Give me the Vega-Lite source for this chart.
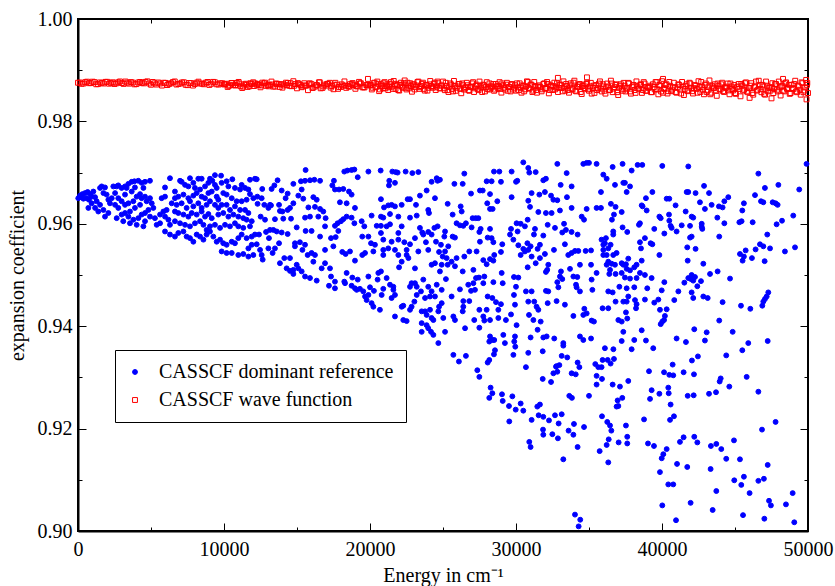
{
"$schema":"https://vega.github.io/schema/vega-lite/v6.json",
"width":730,"height":512,"autosize":"none",
"padding":{"left":78,"top":19,"right":27,"bottom":55},
"config":{"view":{"stroke":"black","strokeWidth":2},"font":"Liberation Serif",
"axis":{"labelFont":"Liberation Serif","labelFontSize":20,"titleFont":"Liberation Serif","titleFontSize":20,"titleFontWeight":"normal","labelColor":"black","titleColor":"black","tickColor":"black","tickWidth":1,"domainColor":"black","domainWidth":2,"grid":false,"labelFlush":false,"labelOverlap":false},
"legend":{"title":null,"orient":"none","legendX":37,"legendY":331,"strokeColor":"black","fillColor":"white","padding":12,"symbolOffset":-2,"labelOffset":14,"rowPadding":8,"labelFont":"Liberation Serif","labelFontSize":20,"labelColor":"black","labelLimit":400,"symbolStrokeWidth":1,"symbolSize":24}},
"resolve":{"axis":{"x":"independent","y":"independent"}},
"layer":[
{"data":{"values":[
{"s":"b","e":0,"c":0.98755},{"s":"b","e":250,"c":0.98734},{"s":"b","e":500,"c":0.98767},{"s":"b","e":750,"c":0.98746},{"s":"b","e":1000,"c":0.98776},{"s":"b","e":1250,"c":0.98725},{"s":"b","e":1500,"c":0.98761},{"s":"b","e":1750,"c":0.9874},{"s":"b","e":2000,"c":0.98773},{"s":"b","e":2250,"c":0.98752},{"s":"b","e":2500,"c":0.98731},{"s":"b","e":2750,"c":0.98764},{"s":"b","e":3000,"c":0.98749},{"s":"b","e":3250,"c":0.98779},{"s":"b","e":3500,"c":0.98737},{"s":"b","e":3750,"c":0.98758},{"s":"b","e":4000,"c":0.98728},{"s":"b","e":4250,"c":0.9877},{"s":"b","e":4500,"c":0.98743},{"s":"b","e":4750,"c":0.98782},
{"s":"b","e":125,"c":0.9876},{"s":"b","e":375,"c":0.9874},{"s":"b","e":625,"c":0.98776},{"s":"b","e":875,"c":0.98748},{"s":"b","e":1125,"c":0.98768},{"s":"b","e":1375,"c":0.98728},{"s":"b","e":1625,"c":0.98752},{"s":"b","e":1875,"c":0.98772},{"s":"b","e":2125,"c":0.98736},{"s":"b","e":2375,"c":0.98764},{"s":"b","e":2625,"c":0.98744},{"s":"b","e":2875,"c":0.9878},{"s":"b","e":3125,"c":0.98732},{"s":"b","e":3375,"c":0.98756},{"s":"b","e":3625,"c":0.98768},{"s":"b","e":3875,"c":0.98724},{"s":"b","e":4125,"c":0.9876},{"s":"b","e":4375,"c":0.98748},{"s":"b","e":4625,"c":0.98772},{"s":"b","e":4875,"c":0.9874},
{"s":"b","e":5000,"c":0.98716},{"s":"b","e":5250,"c":0.98744},{"s":"b","e":5500,"c":0.9876},{"s":"b","e":5750,"c":0.987},{"s":"b","e":6000,"c":0.98752},{"s":"b","e":6250,"c":0.98732},{"s":"b","e":6500,"c":0.98768},{"s":"b","e":6750,"c":0.9872},{"s":"b","e":7000,"c":0.9874},{"s":"b","e":7250,"c":0.98764},{"s":"b","e":7500,"c":0.98708},{"s":"b","e":7750,"c":0.98748},{"s":"b","e":8000,"c":0.98728},{"s":"b","e":8250,"c":0.98776},{"s":"b","e":8500,"c":0.98736},{"s":"b","e":8750,"c":0.98756},{"s":"b","e":9000,"c":0.98712},{"s":"b","e":9250,"c":0.98772},{"s":"b","e":9500,"c":0.98724},{"s":"b","e":9750,"c":0.98744},
{"s":"b","e":5125,"c":0.9877},{"s":"b","e":5375,"c":0.9872},{"s":"b","e":5625,"c":0.9874},{"s":"b","e":5875,"c":0.98755},{"s":"b","e":6125,"c":0.9871},{"s":"b","e":6375,"c":0.98745},{"s":"b","e":6625,"c":0.9878},{"s":"b","e":6875,"c":0.9873},{"s":"b","e":7125,"c":0.9876},{"s":"b","e":7375,"c":0.98715},{"s":"b","e":7625,"c":0.9875},{"s":"b","e":7875,"c":0.987},{"s":"b","e":8125,"c":0.98755},{"s":"b","e":8375,"c":0.9874},{"s":"b","e":8625,"c":0.98725},{"s":"b","e":8875,"c":0.9877},{"s":"b","e":9125,"c":0.98735},{"s":"b","e":9375,"c":0.98765},{"s":"b","e":9625,"c":0.9872},{"s":"b","e":9875,"c":0.98745},
{"s":"b","e":10000,"c":0.98722},{"s":"b","e":10250,"c":0.98673},{"s":"b","e":10500,"c":0.9875},{"s":"b","e":10750,"c":0.98701},{"s":"b","e":11000,"c":0.98771},{"s":"b","e":11250,"c":0.98652},{"s":"b","e":11500,"c":0.98736},{"s":"b","e":11750,"c":0.98687},{"s":"b","e":12000,"c":0.98764},{"s":"b","e":12250,"c":0.98715},{"s":"b","e":12500,"c":0.98666},{"s":"b","e":12750,"c":0.98743},{"s":"b","e":13000,"c":0.98708},{"s":"b","e":13250,"c":0.98778},{"s":"b","e":13500,"c":0.9868},{"s":"b","e":13750,"c":0.98729},{"s":"b","e":14000,"c":0.98659},{"s":"b","e":14250,"c":0.98757},{"s":"b","e":14500,"c":0.98694},{"s":"b","e":14750,"c":0.98785},
{"s":"b","e":10125,"c":0.98736},{"s":"b","e":10375,"c":0.98701},{"s":"b","e":10625,"c":0.98715},{"s":"b","e":10875,"c":0.9875},{"s":"b","e":11125,"c":0.98687},{"s":"b","e":11375,"c":0.98722},{"s":"b","e":11625,"c":0.98673},{"s":"b","e":11875,"c":0.98729},{"s":"b","e":12125,"c":0.98743},{"s":"b","e":12375,"c":0.98708},{"s":"b","e":12625,"c":0.98757},{"s":"b","e":12875,"c":0.98694},{"s":"b","e":13125,"c":0.98715},{"s":"b","e":13375,"c":0.9868},{"s":"b","e":13625,"c":0.98736},{"s":"b","e":13875,"c":0.98722},{"s":"b","e":14125,"c":0.98701},{"s":"b","e":14375,"c":0.9875},{"s":"b","e":14625,"c":0.98687},{"s":"b","e":14875,"c":0.98729},
{"s":"b","e":10060,"c":0.98727},{"s":"b","e":10310,"c":0.98697},{"s":"b","e":10560,"c":0.98751},{"s":"b","e":10810,"c":0.98709},{"s":"b","e":11060,"c":0.98739},{"s":"b","e":11310,"c":0.98679},{"s":"b","e":11560,"c":0.98715},{"s":"b","e":11810,"c":0.98745},{"s":"b","e":12060,"c":0.98691},{"s":"b","e":12310,"c":0.98733},{"s":"b","e":12560,"c":0.98703},{"s":"b","e":12810,"c":0.98757},{"s":"b","e":13060,"c":0.98685},{"s":"b","e":13310,"c":0.98721},{"s":"b","e":13560,"c":0.98739},{"s":"b","e":13810,"c":0.98673},{"s":"b","e":14060,"c":0.98727},{"s":"b","e":14310,"c":0.98709},{"s":"b","e":14560,"c":0.98745},{"s":"b","e":14810,"c":0.98697},
{"s":"b","e":15000,"c":0.98646},{"s":"b","e":15250,"c":0.98709},{"s":"b","e":15500,"c":0.98745},{"s":"b","e":15750,"c":0.9861},{"s":"b","e":16000,"c":0.98727},{"s":"b","e":16250,"c":0.98682},{"s":"b","e":16500,"c":0.98763},{"s":"b","e":16750,"c":0.98655},{"s":"b","e":17000,"c":0.987},{"s":"b","e":17250,"c":0.98754},{"s":"b","e":17500,"c":0.98628},{"s":"b","e":17750,"c":0.98718},{"s":"b","e":18000,"c":0.98673},{"s":"b","e":18250,"c":0.98781},{"s":"b","e":18500,"c":0.98691},{"s":"b","e":18750,"c":0.98736},{"s":"b","e":19000,"c":0.98637},{"s":"b","e":19250,"c":0.98772},{"s":"b","e":19500,"c":0.98664},{"s":"b","e":19750,"c":0.98709},
{"s":"b","e":15125,"c":0.98727},{"s":"b","e":15375,"c":0.98682},{"s":"b","e":15625,"c":0.987},{"s":"b","e":15875,"c":0.98745},{"s":"b","e":16125,"c":0.98664},{"s":"b","e":16375,"c":0.98709},{"s":"b","e":16625,"c":0.98646},{"s":"b","e":16875,"c":0.98718},{"s":"b","e":17125,"c":0.98736},{"s":"b","e":17375,"c":0.98691},{"s":"b","e":17625,"c":0.98754},{"s":"b","e":17875,"c":0.98673},{"s":"b","e":18125,"c":0.987},{"s":"b","e":18375,"c":0.98655},{"s":"b","e":18625,"c":0.98727},{"s":"b","e":18875,"c":0.98709},{"s":"b","e":19125,"c":0.98682},{"s":"b","e":19375,"c":0.98745},{"s":"b","e":19625,"c":0.98664},{"s":"b","e":19875,"c":0.98718},
{"s":"b","e":15060,"c":0.98748},{"s":"b","e":15310,"c":0.98668},{"s":"b","e":15560,"c":0.987},{"s":"b","e":15810,"c":0.98724},{"s":"b","e":16060,"c":0.98652},{"s":"b","e":16310,"c":0.98708},{"s":"b","e":16560,"c":0.98764},{"s":"b","e":16810,"c":0.98684},{"s":"b","e":17060,"c":0.98732},{"s":"b","e":17310,"c":0.9866},{"s":"b","e":17560,"c":0.98716},{"s":"b","e":17810,"c":0.98636},{"s":"b","e":18060,"c":0.98724},{"s":"b","e":18310,"c":0.987},{"s":"b","e":18560,"c":0.98676},{"s":"b","e":18810,"c":0.98748},{"s":"b","e":19060,"c":0.98692},{"s":"b","e":19310,"c":0.9874},{"s":"b","e":19560,"c":0.98668},{"s":"b","e":19810,"c":0.98708},
{"s":"b","e":20000,"c":0.98701},{"s":"b","e":20125,"c":0.98624},{"s":"b","e":20250,"c":0.98745},{"s":"b","e":20375,"c":0.98668},{"s":"b","e":20500,"c":0.98778},{"s":"b","e":20625,"c":0.98591},{"s":"b","e":20750,"c":0.98723},{"s":"b","e":20875,"c":0.98646},{"s":"b","e":21000,"c":0.98767},{"s":"b","e":21125,"c":0.9869},{"s":"b","e":21250,"c":0.98613},{"s":"b","e":21375,"c":0.98734},{"s":"b","e":21500,"c":0.98679},{"s":"b","e":21625,"c":0.98789},{"s":"b","e":21750,"c":0.98635},{"s":"b","e":21875,"c":0.98712},{"s":"b","e":22000,"c":0.98602},{"s":"b","e":22125,"c":0.98756},{"s":"b","e":22250,"c":0.98657},{"s":"b","e":22375,"c":0.988},{"s":"b","e":22500,"c":0.98624},{"s":"b","e":22625,"c":0.98701},{"s":"b","e":22750,"c":0.98745},{"s":"b","e":22875,"c":0.9858},{"s":"b","e":23000,"c":0.98723},{"s":"b","e":23125,"c":0.98668},{"s":"b","e":23250,"c":0.98767},{"s":"b","e":23375,"c":0.98635},{"s":"b","e":23500,"c":0.9869},{"s":"b","e":23625,"c":0.98756},{"s":"b","e":23750,"c":0.98602},{"s":"b","e":23875,"c":0.98712},{"s":"b","e":24000,"c":0.98657},{"s":"b","e":24125,"c":0.98789},{"s":"b","e":24250,"c":0.98679},{"s":"b","e":24375,"c":0.98734},{"s":"b","e":24500,"c":0.98613},{"s":"b","e":24625,"c":0.98778},{"s":"b","e":24750,"c":0.98646},{"s":"b","e":24875,"c":0.98701},
{"s":"b","e":20060,"c":0.98712},{"s":"b","e":20185,"c":0.98657},{"s":"b","e":20310,"c":0.98756},{"s":"b","e":20435,"c":0.98679},{"s":"b","e":20560,"c":0.98734},{"s":"b","e":20685,"c":0.98624},{"s":"b","e":20810,"c":0.9869},{"s":"b","e":20935,"c":0.98745},{"s":"b","e":21060,"c":0.98646},{"s":"b","e":21185,"c":0.98723},{"s":"b","e":21310,"c":0.98668},{"s":"b","e":21435,"c":0.98767},{"s":"b","e":21560,"c":0.98635},{"s":"b","e":21685,"c":0.98701},{"s":"b","e":21810,"c":0.98734},{"s":"b","e":21935,"c":0.98613},{"s":"b","e":22060,"c":0.98712},{"s":"b","e":22185,"c":0.98679},{"s":"b","e":22310,"c":0.98745},{"s":"b","e":22435,"c":0.98657},{"s":"b","e":22560,"c":0.98756},{"s":"b","e":22685,"c":0.98646},{"s":"b","e":22810,"c":0.9869},{"s":"b","e":22935,"c":0.98723},{"s":"b","e":23060,"c":0.98624},{"s":"b","e":23185,"c":0.98701},{"s":"b","e":23310,"c":0.98778},{"s":"b","e":23435,"c":0.98668},{"s":"b","e":23560,"c":0.98734},{"s":"b","e":23685,"c":0.98635},{"s":"b","e":23810,"c":0.98712},{"s":"b","e":23935,"c":0.98602},{"s":"b","e":24060,"c":0.98723},{"s":"b","e":24185,"c":0.9869},{"s":"b","e":24310,"c":0.98657},{"s":"b","e":24435,"c":0.98756},{"s":"b","e":24560,"c":0.98679},{"s":"b","e":24685,"c":0.98745},{"s":"b","e":24810,"c":0.98646},{"s":"b","e":24935,"c":0.98701},
{"s":"b","e":25000,"c":0.98778},{"s":"b","e":25125,"c":0.9861},{"s":"b","e":25250,"c":0.98694},{"s":"b","e":25375,"c":0.98574},{"s":"b","e":25500,"c":0.98742},{"s":"b","e":25625,"c":0.98634},{"s":"b","e":25750,"c":0.9879},{"s":"b","e":25875,"c":0.98598},{"s":"b","e":26000,"c":0.98682},{"s":"b","e":26125,"c":0.9873},{"s":"b","e":26250,"c":0.9855},{"s":"b","e":26375,"c":0.98706},{"s":"b","e":26500,"c":0.98646},{"s":"b","e":26625,"c":0.98754},{"s":"b","e":26750,"c":0.9861},{"s":"b","e":26875,"c":0.9867},{"s":"b","e":27000,"c":0.98742},{"s":"b","e":27125,"c":0.98574},{"s":"b","e":27250,"c":0.98694},{"s":"b","e":27375,"c":0.98634},{"s":"b","e":27500,"c":0.98778},{"s":"b","e":27625,"c":0.98658},{"s":"b","e":27750,"c":0.98718},{"s":"b","e":27875,"c":0.98586},{"s":"b","e":28000,"c":0.98766},{"s":"b","e":28125,"c":0.98622},{"s":"b","e":28250,"c":0.98682},{"s":"b","e":28375,"c":0.98682},{"s":"b","e":28500,"c":0.98598},{"s":"b","e":28625,"c":0.9873},{"s":"b","e":28750,"c":0.98646},{"s":"b","e":28875,"c":0.98766},{"s":"b","e":29000,"c":0.98562},{"s":"b","e":29125,"c":0.98706},{"s":"b","e":29250,"c":0.98622},{"s":"b","e":29375,"c":0.98754},{"s":"b","e":29500,"c":0.9867},{"s":"b","e":29625,"c":0.98586},{"s":"b","e":29750,"c":0.98718},{"s":"b","e":29875,"c":0.98658},
{"s":"b","e":25060,"c":0.98646},{"s":"b","e":25185,"c":0.98754},{"s":"b","e":25310,"c":0.9861},{"s":"b","e":25435,"c":0.98682},{"s":"b","e":25560,"c":0.98718},{"s":"b","e":25685,"c":0.98586},{"s":"b","e":25810,"c":0.98694},{"s":"b","e":25935,"c":0.98658},{"s":"b","e":26060,"c":0.9873},{"s":"b","e":26185,"c":0.98634},{"s":"b","e":26310,"c":0.98742},{"s":"b","e":26435,"c":0.98622},{"s":"b","e":26560,"c":0.9867},{"s":"b","e":26685,"c":0.98706},{"s":"b","e":26810,"c":0.98598},{"s":"b","e":26935,"c":0.98682},{"s":"b","e":27060,"c":0.98766},{"s":"b","e":27185,"c":0.98646},{"s":"b","e":27310,"c":0.98718},{"s":"b","e":27435,"c":0.9861},{"s":"b","e":27560,"c":0.98694},{"s":"b","e":27685,"c":0.98574},{"s":"b","e":27810,"c":0.98706},{"s":"b","e":27935,"c":0.9867},{"s":"b","e":28060,"c":0.98634},{"s":"b","e":28185,"c":0.98742},{"s":"b","e":28310,"c":0.98658},{"s":"b","e":28435,"c":0.9873},{"s":"b","e":28560,"c":0.98622},{"s":"b","e":28685,"c":0.98682},{"s":"b","e":28810,"c":0.98694},{"s":"b","e":28935,"c":0.98634},{"s":"b","e":29060,"c":0.98742},{"s":"b","e":29185,"c":0.98658},{"s":"b","e":29310,"c":0.98718},{"s":"b","e":29435,"c":0.98598},{"s":"b","e":29560,"c":0.9867},{"s":"b","e":29685,"c":0.9873},{"s":"b","e":29810,"c":0.98622},{"s":"b","e":29935,"c":0.98706},
{"s":"b","e":30000,"c":0.986},{"s":"b","e":30125,"c":0.98665},{"s":"b","e":30250,"c":0.98743},{"s":"b","e":30375,"c":0.98561},{"s":"b","e":30500,"c":0.98691},{"s":"b","e":30625,"c":0.98626},{"s":"b","e":30750,"c":0.98782},{"s":"b","e":30875,"c":0.98652},{"s":"b","e":31000,"c":0.98717},{"s":"b","e":31125,"c":0.98574},{"s":"b","e":31250,"c":0.98769},{"s":"b","e":31375,"c":0.98613},{"s":"b","e":31500,"c":0.98678},{"s":"b","e":31625,"c":0.98678},{"s":"b","e":31750,"c":0.98587},{"s":"b","e":31875,"c":0.9873},{"s":"b","e":32000,"c":0.98639},{"s":"b","e":32125,"c":0.98769},{"s":"b","e":32250,"c":0.98548},{"s":"b","e":32375,"c":0.98704},{"s":"b","e":32500,"c":0.98613},{"s":"b","e":32625,"c":0.98756},{"s":"b","e":32750,"c":0.98665},{"s":"b","e":32875,"c":0.98574},{"s":"b","e":33000,"c":0.98717},{"s":"b","e":33125,"c":0.98652},{"s":"b","e":33250,"c":0.98782},{"s":"b","e":33375,"c":0.986},{"s":"b","e":33500,"c":0.98691},{"s":"b","e":33625,"c":0.98561},{"s":"b","e":33750,"c":0.98743},{"s":"b","e":33875,"c":0.98626},{"s":"b","e":34000,"c":0.98795},{"s":"b","e":34125,"c":0.98587},{"s":"b","e":34250,"c":0.98678},{"s":"b","e":34375,"c":0.9873},{"s":"b","e":34500,"c":0.98535},{"s":"b","e":34625,"c":0.98704},{"s":"b","e":34750,"c":0.98639},{"s":"b","e":34875,"c":0.98756},
{"s":"b","e":30060,"c":0.98743},{"s":"b","e":30185,"c":0.98613},{"s":"b","e":30310,"c":0.98665},{"s":"b","e":30435,"c":0.98704},{"s":"b","e":30560,"c":0.98587},{"s":"b","e":30685,"c":0.98678},{"s":"b","e":30810,"c":0.98769},{"s":"b","e":30935,"c":0.98639},{"s":"b","e":31060,"c":0.98717},{"s":"b","e":31185,"c":0.986},{"s":"b","e":31310,"c":0.98691},{"s":"b","e":31435,"c":0.98561},{"s":"b","e":31560,"c":0.98704},{"s":"b","e":31685,"c":0.98665},{"s":"b","e":31810,"c":0.98626},{"s":"b","e":31935,"c":0.98743},{"s":"b","e":32060,"c":0.98652},{"s":"b","e":32185,"c":0.9873},{"s":"b","e":32310,"c":0.98613},{"s":"b","e":32435,"c":0.98678},{"s":"b","e":32560,"c":0.98691},{"s":"b","e":32685,"c":0.98626},{"s":"b","e":32810,"c":0.98743},{"s":"b","e":32935,"c":0.98652},{"s":"b","e":33060,"c":0.98717},{"s":"b","e":33185,"c":0.98587},{"s":"b","e":33310,"c":0.98665},{"s":"b","e":33435,"c":0.9873},{"s":"b","e":33560,"c":0.98613},{"s":"b","e":33685,"c":0.98704},{"s":"b","e":33810,"c":0.98639},{"s":"b","e":33935,"c":0.98756},{"s":"b","e":34060,"c":0.986},{"s":"b","e":34185,"c":0.98678},{"s":"b","e":34310,"c":0.98717},{"s":"b","e":34435,"c":0.98574},{"s":"b","e":34560,"c":0.98691},{"s":"b","e":34685,"c":0.98652},{"s":"b","e":34810,"c":0.9873},{"s":"b","e":34935,"c":0.98626},
{"s":"b","e":35000,"c":0.98599},{"s":"b","e":35125,"c":0.98753},{"s":"b","e":35250,"c":0.98655},{"s":"b","e":35375,"c":0.98557},{"s":"b","e":35500,"c":0.98711},{"s":"b","e":35625,"c":0.98641},{"s":"b","e":35750,"c":0.98781},{"s":"b","e":35875,"c":0.98585},{"s":"b","e":36000,"c":0.98683},{"s":"b","e":36125,"c":0.98543},{"s":"b","e":36250,"c":0.98739},{"s":"b","e":36375,"c":0.98613},{"s":"b","e":36500,"c":0.98795},{"s":"b","e":36625,"c":0.98571},{"s":"b","e":36750,"c":0.98669},{"s":"b","e":36875,"c":0.98725},{"s":"b","e":37000,"c":0.98515},{"s":"b","e":37125,"c":0.98697},{"s":"b","e":37250,"c":0.98627},{"s":"b","e":37375,"c":0.98753},{"s":"b","e":37500,"c":0.98585},{"s":"b","e":37625,"c":0.98655},{"s":"b","e":37750,"c":0.98739},{"s":"b","e":37875,"c":0.98543},{"s":"b","e":38000,"c":0.98683},{"s":"b","e":38125,"c":0.98613},{"s":"b","e":38250,"c":0.98781},{"s":"b","e":38375,"c":0.98641},{"s":"b","e":38500,"c":0.98711},{"s":"b","e":38625,"c":0.98557},{"s":"b","e":38750,"c":0.98767},{"s":"b","e":38875,"c":0.98599},{"s":"b","e":39000,"c":0.98669},{"s":"b","e":39125,"c":0.98669},{"s":"b","e":39250,"c":0.98571},{"s":"b","e":39375,"c":0.98725},{"s":"b","e":39500,"c":0.98627},{"s":"b","e":39625,"c":0.98767},{"s":"b","e":39750,"c":0.98529},{"s":"b","e":39875,"c":0.98697},
{"s":"b","e":35060,"c":0.98683},{"s":"b","e":35185,"c":0.98543},{"s":"b","e":35310,"c":0.98697},{"s":"b","e":35435,"c":0.98655},{"s":"b","e":35560,"c":0.98613},{"s":"b","e":35685,"c":0.98739},{"s":"b","e":35810,"c":0.98641},{"s":"b","e":35935,"c":0.98725},{"s":"b","e":36060,"c":0.98599},{"s":"b","e":36185,"c":0.98669},{"s":"b","e":36310,"c":0.98683},{"s":"b","e":36435,"c":0.98613},{"s":"b","e":36560,"c":0.98739},{"s":"b","e":36685,"c":0.98641},{"s":"b","e":36810,"c":0.98711},{"s":"b","e":36935,"c":0.98571},{"s":"b","e":37060,"c":0.98655},{"s":"b","e":37185,"c":0.98725},{"s":"b","e":37310,"c":0.98599},{"s":"b","e":37435,"c":0.98697},{"s":"b","e":37560,"c":0.98627},{"s":"b","e":37685,"c":0.98753},{"s":"b","e":37810,"c":0.98585},{"s":"b","e":37935,"c":0.98669},{"s":"b","e":38060,"c":0.98711},{"s":"b","e":38185,"c":0.98557},{"s":"b","e":38310,"c":0.98683},{"s":"b","e":38435,"c":0.98641},{"s":"b","e":38560,"c":0.98725},{"s":"b","e":38685,"c":0.98613},{"s":"b","e":38810,"c":0.98739},{"s":"b","e":38935,"c":0.98599},{"s":"b","e":39060,"c":0.98655},{"s":"b","e":39185,"c":0.98697},{"s":"b","e":39310,"c":0.98571},{"s":"b","e":39435,"c":0.98669},{"s":"b","e":39560,"c":0.98767},{"s":"b","e":39685,"c":0.98627},{"s":"b","e":39810,"c":0.98711},{"s":"b","e":39935,"c":0.98585},
{"s":"b","e":40000,"c":0.98785},{"s":"b","e":40125,"c":0.98635},{"s":"b","e":40250,"c":0.9871},{"s":"b","e":40375,"c":0.98545},{"s":"b","e":40500,"c":0.9877},{"s":"b","e":40625,"c":0.9859},{"s":"b","e":40750,"c":0.98665},{"s":"b","e":40875,"c":0.98665},{"s":"b","e":41000,"c":0.9856},{"s":"b","e":41125,"c":0.98725},{"s":"b","e":41250,"c":0.9862},{"s":"b","e":41375,"c":0.9877},{"s":"b","e":41500,"c":0.98515},{"s":"b","e":41625,"c":0.98695},{"s":"b","e":41750,"c":0.9859},{"s":"b","e":41875,"c":0.98755},{"s":"b","e":42000,"c":0.9865},{"s":"b","e":42125,"c":0.98545},{"s":"b","e":42250,"c":0.9871},{"s":"b","e":42375,"c":0.98635},{"s":"b","e":42500,"c":0.98785},{"s":"b","e":42625,"c":0.98575},{"s":"b","e":42750,"c":0.9868},{"s":"b","e":42875,"c":0.9853},{"s":"b","e":43000,"c":0.9874},{"s":"b","e":43125,"c":0.98605},{"s":"b","e":43250,"c":0.988},{"s":"b","e":43375,"c":0.9856},{"s":"b","e":43500,"c":0.98665},{"s":"b","e":43625,"c":0.98725},{"s":"b","e":43750,"c":0.985},{"s":"b","e":43875,"c":0.98695},{"s":"b","e":44000,"c":0.9862},{"s":"b","e":44125,"c":0.98755},{"s":"b","e":44250,"c":0.98575},{"s":"b","e":44375,"c":0.9865},{"s":"b","e":44500,"c":0.9874},{"s":"b","e":44625,"c":0.9853},{"s":"b","e":44750,"c":0.9868},{"s":"b","e":44875,"c":0.98605},
{"s":"b","e":40060,"c":0.9856},{"s":"b","e":40185,"c":0.9865},{"s":"b","e":40310,"c":0.98725},{"s":"b","e":40435,"c":0.9859},{"s":"b","e":40560,"c":0.98695},{"s":"b","e":40685,"c":0.9862},{"s":"b","e":40810,"c":0.98755},{"s":"b","e":40935,"c":0.98575},{"s":"b","e":41060,"c":0.98665},{"s":"b","e":41185,"c":0.9871},{"s":"b","e":41310,"c":0.98545},{"s":"b","e":41435,"c":0.9868},{"s":"b","e":41560,"c":0.98635},{"s":"b","e":41685,"c":0.98725},{"s":"b","e":41810,"c":0.98605},{"s":"b","e":41935,"c":0.9874},{"s":"b","e":42060,"c":0.9859},{"s":"b","e":42185,"c":0.9865},{"s":"b","e":42310,"c":0.98695},{"s":"b","e":42435,"c":0.9856},{"s":"b","e":42560,"c":0.98665},{"s":"b","e":42685,"c":0.9877},{"s":"b","e":42810,"c":0.9862},{"s":"b","e":42935,"c":0.9871},{"s":"b","e":43060,"c":0.98575},{"s":"b","e":43185,"c":0.9868},{"s":"b","e":43310,"c":0.9853},{"s":"b","e":43435,"c":0.98695},{"s":"b","e":43560,"c":0.9865},{"s":"b","e":43685,"c":0.98605},{"s":"b","e":43810,"c":0.9874},{"s":"b","e":43935,"c":0.98635},{"s":"b","e":44060,"c":0.98725},{"s":"b","e":44185,"c":0.9859},{"s":"b","e":44310,"c":0.98665},{"s":"b","e":44435,"c":0.9868},{"s":"b","e":44560,"c":0.98605},{"s":"b","e":44685,"c":0.9874},{"s":"b","e":44810,"c":0.98635},{"s":"b","e":44935,"c":0.9871},
{"s":"b","e":45000,"c":0.98554},{"s":"b","e":45125,"c":0.98666},{"s":"b","e":45250,"c":0.9873},{"s":"b","e":45375,"c":0.9849},{"s":"b","e":45500,"c":0.98698},{"s":"b","e":45625,"c":0.98618},{"s":"b","e":45750,"c":0.98762},{"s":"b","e":45875,"c":0.9857},{"s":"b","e":46000,"c":0.9865},{"s":"b","e":46125,"c":0.98746},{"s":"b","e":46250,"c":0.98522},{"s":"b","e":46375,"c":0.98682},{"s":"b","e":46500,"c":0.98602},{"s":"b","e":46625,"c":0.98794},{"s":"b","e":46750,"c":0.98634},{"s":"b","e":46875,"c":0.98714},{"s":"b","e":47000,"c":0.98538},{"s":"b","e":47125,"c":0.98778},{"s":"b","e":47250,"c":0.98586},{"s":"b","e":47375,"c":0.98666},{"s":"b","e":47500,"c":0.98666},{"s":"b","e":47625,"c":0.98554},{"s":"b","e":47750,"c":0.9873},{"s":"b","e":47875,"c":0.98618},{"s":"b","e":48000,"c":0.98778},{"s":"b","e":48125,"c":0.98506},{"s":"b","e":48250,"c":0.98698},{"s":"b","e":48375,"c":0.98586},{"s":"b","e":48500,"c":0.98762},{"s":"b","e":48625,"c":0.9865},{"s":"b","e":48750,"c":0.98538},{"s":"b","e":48875,"c":0.98714},{"s":"b","e":49000,"c":0.98634},{"s":"b","e":49125,"c":0.98794},{"s":"b","e":49250,"c":0.9857},{"s":"b","e":49375,"c":0.98682},{"s":"b","e":49500,"c":0.98522},{"s":"b","e":49625,"c":0.98746},{"s":"b","e":49750,"c":0.98602},{"s":"b","e":49875,"c":0.9881},{"s":"b","e":50000,"c":0.98554},
{"s":"b","e":45060,"c":0.98538},{"s":"b","e":45185,"c":0.98682},{"s":"b","e":45310,"c":0.98634},{"s":"b","e":45435,"c":0.9873},{"s":"b","e":45560,"c":0.98602},{"s":"b","e":45685,"c":0.98746},{"s":"b","e":45810,"c":0.98586},{"s":"b","e":45935,"c":0.9865},{"s":"b","e":46060,"c":0.98698},{"s":"b","e":46185,"c":0.98554},{"s":"b","e":46310,"c":0.98666},{"s":"b","e":46435,"c":0.98778},{"s":"b","e":46560,"c":0.98618},{"s":"b","e":46685,"c":0.98714},{"s":"b","e":46810,"c":0.9857},{"s":"b","e":46935,"c":0.98682},{"s":"b","e":47060,"c":0.98522},{"s":"b","e":47185,"c":0.98698},{"s":"b","e":47310,"c":0.9865},{"s":"b","e":47435,"c":0.98602},{"s":"b","e":47560,"c":0.98746},{"s":"b","e":47685,"c":0.98634},{"s":"b","e":47810,"c":0.9873},{"s":"b","e":47935,"c":0.98586},{"s":"b","e":48060,"c":0.98666},{"s":"b","e":48185,"c":0.98682},{"s":"b","e":48310,"c":0.98602},{"s":"b","e":48435,"c":0.98746},{"s":"b","e":48560,"c":0.98634},{"s":"b","e":48685,"c":0.98714},{"s":"b","e":48810,"c":0.98554},{"s":"b","e":48935,"c":0.9865},{"s":"b","e":49060,"c":0.9873},{"s":"b","e":49185,"c":0.98586},{"s":"b","e":49310,"c":0.98698},{"s":"b","e":49435,"c":0.98618},{"s":"b","e":49560,"c":0.98762},{"s":"b","e":49685,"c":0.9857},{"s":"b","e":49810,"c":0.98666},{"s":"b","e":49935,"c":0.98714},
{"s":"b","e":19860,"c":0.9883},{"s":"b","e":40070,"c":0.9883},{"s":"b","e":48290,"c":0.9883},{"s":"b","e":49900,"c":0.9843},{"s":"b","e":49950,"c":0.9875},{"s":"b","e":46000,"c":0.9846},{"s":"b","e":47500,"c":0.9845},{"s":"b","e":34860,"c":0.9886},{"s":"b","e":32870,"c":0.9885},
{"s":"a","e":20,"c":0.965},{"s":"a","e":140,"c":0.9655},{"s":"a","e":300,"c":0.9658},{"s":"a","e":480,"c":0.966},{"s":"a","e":660,"c":0.9662},{"s":"a","e":820,"c":0.9658},{"s":"a","e":940,"c":0.9653},{"s":"a","e":370,"c":0.9649},{"s":"a","e":590,"c":0.965},{"s":"a","e":750,"c":0.9647},{"s":"a","e":210,"c":0.9652},{"s":"a","e":1050,"c":0.9663},{"s":"a","e":1170,"c":0.9652},{"s":"a","e":1280,"c":0.9644},{"s":"a","e":1510,"c":0.967},{"s":"a","e":1620,"c":0.9673},{"s":"a","e":1850,"c":0.9671},{"s":"a","e":1740,"c":0.966},{"s":"a","e":1960,"c":0.9657},{"s":"a","e":2080,"c":0.9647},{"s":"a","e":1510,"c":0.9637},{"s":"a","e":1170,"c":0.9631},{"s":"a","e":940,"c":0.964},{"s":"a","e":710,"c":0.9631},{"s":"a","e":1390,"c":0.9624},{"s":"a","e":1740,"c":0.9627},{"s":"a","e":2080,"c":0.9621},{"s":"a","e":1850,"c":0.9614},{"s":"a","e":2190,"c":0.964},{"s":"a","e":2420,"c":0.9673},{"s":"a","e":2650,"c":0.9673},{"s":"a","e":2760,"c":0.9675},{"s":"a","e":2990,"c":0.967},{"s":"a","e":3220,"c":0.9673},{"s":"a","e":3330,"c":0.967},{"s":"a","e":3450,"c":0.9678},{"s":"a","e":3680,"c":0.9682},{"s":"a","e":3860,"c":0.9683},{"s":"a","e":4130,"c":0.9684},{"s":"a","e":4360,"c":0.968},{"s":"a","e":4590,"c":0.9682},{"s":"a","e":4930,"c":0.9684},{"s":"a","e":4480,"c":0.967},{"s":"a","e":3900,"c":0.9671},{"s":"a","e":3680,"c":0.9663},{"s":"a","e":3220,"c":0.9657},{"s":"a","e":2540,"c":0.966},{"s":"a","e":2760,"c":0.965},{"s":"a","e":2310,"c":0.965},{"s":"a","e":2990,"c":0.9644},{"s":"a","e":2540,"c":0.9637},{"s":"a","e":2760,"c":0.9631},{"s":"a","e":3220,"c":0.9637},{"s":"a","e":3450,"c":0.964},{"s":"a","e":3790,"c":0.9644},{"s":"a","e":4020,"c":0.9653},{"s":"a","e":4250,"c":0.9658},{"s":"a","e":4360,"c":0.965},{"s":"a","e":4590,"c":0.9653},{"s":"a","e":4700,"c":0.9644},{"s":"a","e":4930,"c":0.965},{"s":"a","e":5050,"c":0.964},{"s":"a","e":4250,"c":0.9637},{"s":"a","e":3900,"c":0.9631},{"s":"a","e":3560,"c":0.9624},{"s":"a","e":3220,"c":0.9621},{"s":"a","e":3450,"c":0.9614},{"s":"a","e":2990,"c":0.9618},{"s":"a","e":2650,"c":0.9611},{"s":"a","e":3100,"c":0.9605},{"s":"a","e":3560,"c":0.9601},{"s":"a","e":3790,"c":0.9608},{"s":"a","e":4130,"c":0.9611},{"s":"a","e":4360,"c":0.9618},{"s":"a","e":4590,"c":0.9621},{"s":"a","e":4820,"c":0.9627},{"s":"a","e":5160,"c":0.9631},{"s":"a","e":4930,"c":0.9614},{"s":"a","e":4590,"c":0.9605},{"s":"a","e":4480,"c":0.9595},{"s":"a","e":4020,"c":0.9598},{"s":"a","e":5270,"c":0.9611},{"s":"a","e":5620,"c":0.9618},{"s":"a","e":5850,"c":0.9624},{"s":"a","e":6070,"c":0.9627},{"s":"a","e":5960,"c":0.9614},{"s":"a","e":6190,"c":0.9608},{"s":"a","e":5620,"c":0.9601},{"s":"a","e":5390,"c":0.9598},{"s":"a","e":5730,"c":0.965},{"s":"a","e":5960,"c":0.9653},{"s":"a","e":6300,"c":0.9689},{"s":"a","e":6990,"c":0.9684},{"s":"a","e":7100,"c":0.9682},{"s":"a","e":7670,"c":0.9689},{"s":"a","e":8240,"c":0.9688},{"s":"a","e":8470,"c":0.9688},{"s":"a","e":9040,"c":0.9688},{"s":"a","e":9200,"c":0.9684},{"s":"a","e":9380,"c":0.9695},{"s":"a","e":9800,"c":0.9694},{"s":"a","e":10570,"c":0.9687},{"s":"a","e":11210,"c":0.9676},{"s":"a","e":11780,"c":0.9686},{"s":"a","e":12120,"c":0.9688},{"s":"a","e":5960,"c":0.9671},{"s":"a","e":6640,"c":0.9663},{"s":"a","e":7330,"c":0.9676},{"s":"a","e":7560,"c":0.9673},{"s":"a","e":7900,"c":0.968},{"s":"a","e":8010,"c":0.967},{"s":"a","e":8360,"c":0.9667},{"s":"a","e":8700,"c":0.9673},{"s":"a","e":8930,"c":0.968},{"s":"a","e":9380,"c":0.9676},{"s":"a","e":9500,"c":0.967},{"s":"a","e":9840,"c":0.968},{"s":"a","e":10180,"c":0.9683},{"s":"a","e":10300,"c":0.9673},{"s":"a","e":10750,"c":0.967},{"s":"a","e":11100,"c":0.9667},{"s":"a","e":11440,"c":0.967},{"s":"a","e":11670,"c":0.9667},{"s":"a","e":11780,"c":0.9658},{"s":"a","e":6640,"c":0.965},{"s":"a","e":6870,"c":0.9653},{"s":"a","e":7220,"c":0.9657},{"s":"a","e":7560,"c":0.965},{"s":"a","e":7900,"c":0.9655},{"s":"a","e":8130,"c":0.966},{"s":"a","e":8470,"c":0.9653},{"s":"a","e":8700,"c":0.965},{"s":"a","e":8930,"c":0.966},{"s":"a","e":9160,"c":0.9663},{"s":"a","e":9500,"c":0.9653},{"s":"a","e":9610,"c":0.9647},{"s":"a","e":9950,"c":0.966},{"s":"a","e":10180,"c":0.9657},{"s":"a","e":10530,"c":0.965},{"s":"a","e":10870,"c":0.9644},{"s":"a","e":11210,"c":0.9644},{"s":"a","e":11550,"c":0.9647},{"s":"a","e":12010,"c":0.965},{"s":"a","e":6420,"c":0.964},{"s":"a","e":6760,"c":0.9637},{"s":"a","e":7100,"c":0.964},{"s":"a","e":7440,"c":0.9631},{"s":"a","e":7670,"c":0.9644},{"s":"a","e":7900,"c":0.9634},{"s":"a","e":8240,"c":0.964},{"s":"a","e":8470,"c":0.9631},{"s":"a","e":8810,"c":0.9637},{"s":"a","e":9040,"c":0.9644},{"s":"a","e":9380,"c":0.9637},{"s":"a","e":9610,"c":0.9631},{"s":"a","e":9840,"c":0.9637},{"s":"a","e":10180,"c":0.9637},{"s":"a","e":10410,"c":0.9627},{"s":"a","e":10750,"c":0.9634},{"s":"a","e":11100,"c":0.9627},{"s":"a","e":11440,"c":0.9627},{"s":"a","e":11670,"c":0.9621},{"s":"a","e":6640,"c":0.9624},{"s":"a","e":6870,"c":0.9621},{"s":"a","e":7220,"c":0.9618},{"s":"a","e":7560,"c":0.9614},{"s":"a","e":7790,"c":0.9621},{"s":"a","e":8130,"c":0.9618},{"s":"a","e":8470,"c":0.9624},{"s":"a","e":8700,"c":0.9614},{"s":"a","e":8930,"c":0.9619},{"s":"a","e":9160,"c":0.9611},{"s":"a","e":9610,"c":0.9618},{"s":"a","e":9950,"c":0.9621},{"s":"a","e":10300,"c":0.9614},{"s":"a","e":10640,"c":0.9618},{"s":"a","e":10980,"c":0.9614},{"s":"a","e":11320,"c":0.9611},{"s":"a","e":11550,"c":0.9608},{"s":"a","e":11900,"c":0.9605},{"s":"a","e":6300,"c":0.9598},{"s":"a","e":6640,"c":0.9605},{"s":"a","e":6990,"c":0.9601},{"s":"a","e":7330,"c":0.9598},{"s":"a","e":7670,"c":0.9595},{"s":"a","e":8010,"c":0.9601},{"s":"a","e":8360,"c":0.9605},{"s":"a","e":8590,"c":0.9598},{"s":"a","e":8810,"c":0.9588},{"s":"a","e":9040,"c":0.9595},{"s":"a","e":9380,"c":0.9598},{"s":"a","e":9730,"c":0.9592},{"s":"a","e":10070,"c":0.9598},{"s":"a","e":10410,"c":0.9595},{"s":"a","e":10750,"c":0.9601},{"s":"a","e":10980,"c":0.9595},{"s":"a","e":11320,"c":0.9592},{"s":"a","e":11780,"c":0.9595},{"s":"a","e":5960,"c":0.9585},{"s":"a","e":6300,"c":0.9579},{"s":"a","e":6640,"c":0.9575},{"s":"a","e":6870,"c":0.9582},{"s":"a","e":7220,"c":0.9585},{"s":"a","e":7440,"c":0.9575},{"s":"a","e":7670,"c":0.9572},{"s":"a","e":7900,"c":0.9565},{"s":"a","e":8130,"c":0.9579},{"s":"a","e":8360,"c":0.9575},{"s":"a","e":8590,"c":0.9569},{"s":"a","e":8810,"c":0.9579},{"s":"a","e":9040,"c":0.9585},{"s":"a","e":9270,"c":0.9575},{"s":"a","e":9500,"c":0.9565},{"s":"a","e":9730,"c":0.9569},{"s":"a","e":9950,"c":0.9562},{"s":"a","e":10180,"c":0.9559},{"s":"a","e":10530,"c":0.9565},{"s":"a","e":10750,"c":0.9562},{"s":"a","e":10980,"c":0.9572},{"s":"a","e":11210,"c":0.9579},{"s":"a","e":11550,"c":0.9572},{"s":"a","e":11900,"c":0.9575},{"s":"a","e":12120,"c":0.9579},{"s":"a","e":9840,"c":0.9546},{"s":"a","e":10180,"c":0.9543},{"s":"a","e":10530,"c":0.9543},{"s":"a","e":10980,"c":0.9539},{"s":"a","e":11320,"c":0.9541},{"s":"a","e":11670,"c":0.9536},{"s":"a","e":12010,"c":0.9539},{"s":"a","e":11900,"c":0.9559},{"s":"a","e":11670,"c":0.9552},
{"s":"a","e":15590,"c":0.9705},{"s":"a","e":18240,"c":0.9702},{"s":"a","e":18450,"c":0.9704},{"s":"a","e":18740,"c":0.9705},{"s":"a","e":18930,"c":0.9706},{"s":"a","e":19890,"c":0.9702},{"s":"a","e":20730,"c":0.9704},{"s":"a","e":21530,"c":0.9702},{"s":"a","e":21760,"c":0.9701},{"s":"a","e":21890,"c":0.97},{"s":"a","e":22440,"c":0.9702},{"s":"a","e":22900,"c":0.9699},{"s":"a","e":23310,"c":0.9701},{"s":"a","e":24570,"c":0.9689},{"s":"a","e":24630,"c":0.9684},{"s":"a","e":24220,"c":0.9682},{"s":"a","e":21320,"c":0.9684},{"s":"a","e":21300,"c":0.9675},{"s":"a","e":21710,"c":0.968},{"s":"a","e":19160,"c":0.9691},{"s":"a","e":17530,"c":0.9684},{"s":"a","e":17420,"c":0.9675},{"s":"a","e":16580,"c":0.9684},{"s":"a","e":16190,"c":0.9686},{"s":"a","e":15890,"c":0.9685},{"s":"a","e":15550,"c":0.9684},{"s":"a","e":15270,"c":0.9683},{"s":"a","e":14750,"c":0.9678},{"s":"a","e":13670,"c":0.9685},{"s":"a","e":12240,"c":0.9687},{"s":"a","e":13450,"c":0.9675},{"s":"a","e":13260,"c":0.9668},{"s":"a","e":12620,"c":0.9668},{"s":"a","e":12580,"c":0.965},{"s":"a","e":12280,"c":0.9653},{"s":"a","e":12300,"c":0.9639},{"s":"a","e":13950,"c":0.9665},{"s":"a","e":14360,"c":0.9659},{"s":"a","e":14220,"c":0.965},{"s":"a","e":15320,"c":0.9667},{"s":"a","e":15090,"c":0.9655},{"s":"a","e":15430,"c":0.9649},{"s":"a","e":16120,"c":0.9652},{"s":"a","e":16350,"c":0.9647},{"s":"a","e":17600,"c":0.9667},{"s":"a","e":17880,"c":0.9667},{"s":"a","e":18170,"c":0.9668},{"s":"a","e":18560,"c":0.9663},{"s":"a","e":18740,"c":0.9657},{"s":"a","e":17940,"c":0.9642},{"s":"a","e":18400,"c":0.964},{"s":"a","e":18970,"c":0.9631},{"s":"a","e":20750,"c":0.9648},{"s":"a","e":20960,"c":0.9632},{"s":"a","e":21250,"c":0.9636},{"s":"a","e":21480,"c":0.9637},{"s":"a","e":21710,"c":0.9634},{"s":"a","e":22170,"c":0.9637},{"s":"a","e":22580,"c":0.9648},{"s":"a","e":22740,"c":0.9648},{"s":"a","e":23150,"c":0.9637},{"s":"a","e":23420,"c":0.9655},{"s":"a","e":23880,"c":0.9665},{"s":"a","e":24450,"c":0.965},{"s":"a","e":23990,"c":0.9627},{"s":"a","e":24040,"c":0.9621},{"s":"a","e":14750,"c":0.964},{"s":"a","e":14520,"c":0.9631},{"s":"a","e":14360,"c":0.9627},{"s":"a","e":14000,"c":0.9624},{"s":"a","e":13770,"c":0.9637},{"s":"a","e":13220,"c":0.9636},{"s":"a","e":13040,"c":0.9631},{"s":"a","e":13150,"c":0.9637},{"s":"a","e":12760,"c":0.9637},{"s":"a","e":12510,"c":0.9614},{"s":"a","e":12810,"c":0.9608},{"s":"a","e":13490,"c":0.9609},{"s":"a","e":13830,"c":0.9625},{"s":"a","e":14060,"c":0.961},{"s":"a","e":14590,"c":0.961},{"s":"a","e":15780,"c":0.9632},{"s":"a","e":16230,"c":0.9633},{"s":"a","e":16580,"c":0.9629},{"s":"a","e":16800,"c":0.9624},{"s":"a","e":15550,"c":0.9612},{"s":"a","e":15890,"c":0.9614},{"s":"a","e":16460,"c":0.9614},{"s":"a","e":16960,"c":0.9611},{"s":"a","e":16920,"c":0.9595},{"s":"a","e":17600,"c":0.9596},{"s":"a","e":17780,"c":0.9601},{"s":"a","e":18010,"c":0.9605},{"s":"a","e":18170,"c":0.9609},{"s":"a","e":18400,"c":0.9614},{"s":"a","e":18740,"c":0.9612},{"s":"a","e":18930,"c":0.9601},{"s":"a","e":19430,"c":0.9605},{"s":"a","e":19610,"c":0.9595},{"s":"a","e":20110,"c":0.9616},{"s":"a","e":20750,"c":0.9614},{"s":"a","e":20910,"c":0.9612},{"s":"a","e":21370,"c":0.9619},{"s":"a","e":21140,"c":0.9595},{"s":"a","e":20750,"c":0.9596},{"s":"a","e":20460,"c":0.9596},{"s":"a","e":21370,"c":0.9599},{"s":"a","e":21940,"c":0.9614},{"s":"a","e":22170,"c":0.9595},{"s":"a","e":22740,"c":0.9612},{"s":"a","e":23420,"c":0.9592},{"s":"a","e":23580,"c":0.9583},{"s":"a","e":23990,"c":0.9584},{"s":"a","e":24410,"c":0.9592},{"s":"a","e":24630,"c":0.9595},{"s":"a","e":23200,"c":0.9616},{"s":"a","e":12400,"c":0.9579},{"s":"a","e":12880,"c":0.9584},{"s":"a","e":13150,"c":0.9588},{"s":"a","e":13380,"c":0.9588},{"s":"a","e":13610,"c":0.9585},{"s":"a","e":13950,"c":0.9583},{"s":"a","e":14360,"c":0.958},{"s":"a","e":14980,"c":0.9593},{"s":"a","e":15590,"c":0.9586},{"s":"a","e":16000,"c":0.9586},{"s":"a","e":16580,"c":0.9575},{"s":"a","e":17830,"c":0.9586},{"s":"a","e":17330,"c":0.9572},{"s":"a","e":17650,"c":0.9574},{"s":"a","e":15550,"c":0.9559},{"s":"a","e":14860,"c":0.9562},{"s":"a","e":15200,"c":0.9564},{"s":"a","e":13770,"c":0.9562},{"s":"a","e":13080,"c":0.9572},{"s":"a","e":13040,"c":0.9552},{"s":"a","e":12240,"c":0.956},{"s":"a","e":12470,"c":0.9549},{"s":"a","e":13490,"c":0.9552},{"s":"a","e":13330,"c":0.9543},{"s":"a","e":12580,"c":0.9539},{"s":"a","e":12650,"c":0.953},{"s":"a","e":13830,"c":0.9523},{"s":"a","e":14520,"c":0.9533},{"s":"a","e":14130,"c":0.9533},{"s":"a","e":14860,"c":0.9556},{"s":"a","e":15370,"c":0.9549},{"s":"a","e":15730,"c":0.9539},{"s":"a","e":16000,"c":0.9543},{"s":"a","e":16230,"c":0.9539},{"s":"a","e":16120,"c":0.9526},{"s":"a","e":16920,"c":0.9549},{"s":"a","e":17490,"c":0.9556},{"s":"a","e":18100,"c":0.9545},{"s":"a","e":18330,"c":0.9541},{"s":"a","e":18630,"c":0.9546},{"s":"a","e":18970,"c":0.9528},{"s":"a","e":19470,"c":0.9539},{"s":"a","e":19660,"c":0.9543},{"s":"a","e":20230,"c":0.9546},{"s":"a","e":20070,"c":0.9562},{"s":"a","e":20910,"c":0.9549},{"s":"a","e":20910,"c":0.9539},{"s":"a","e":19470,"c":0.9575},{"s":"a","e":19890,"c":0.9575},{"s":"a","e":20340,"c":0.9559},{"s":"a","e":20750,"c":0.9582},{"s":"a","e":20910,"c":0.9569},{"s":"a","e":21480,"c":0.9565},{"s":"a","e":21940,"c":0.9582},{"s":"a","e":21940,"c":0.9569},{"s":"a","e":22350,"c":0.9564},{"s":"a","e":22510,"c":0.9549},{"s":"a","e":22740,"c":0.956},{"s":"a","e":23080,"c":0.9572},{"s":"a","e":23650,"c":0.9579},{"s":"a","e":23830,"c":0.9564},{"s":"a","e":24220,"c":0.9579},{"s":"a","e":24520,"c":0.9565},{"s":"a","e":24730,"c":0.9545},{"s":"a","e":23990,"c":0.9549},{"s":"a","e":23310,"c":0.9546},{"s":"a","e":21250,"c":0.9552},{"s":"a","e":21710,"c":0.9549},{"s":"a","e":21940,"c":0.9539},{"s":"a","e":22510,"c":0.9539},{"s":"a","e":22630,"c":0.9533},{"s":"a","e":21990,"c":0.9515},{"s":"a","e":22170,"c":0.9526},{"s":"a","e":23080,"c":0.9513},{"s":"a","e":24220,"c":0.952},{"s":"a","e":24450,"c":0.9523},{"s":"a","e":14290,"c":0.9513},{"s":"a","e":14520,"c":0.9508},{"s":"a","e":14980,"c":0.952},{"s":"a","e":15090,"c":0.9513},{"s":"a","e":14750,"c":0.951},{"s":"a","e":14750,"c":0.9502},{"s":"a","e":15320,"c":0.9507},{"s":"a","e":15550,"c":0.9497},{"s":"a","e":15890,"c":0.9494},{"s":"a","e":16350,"c":0.9489},{"s":"a","e":16690,"c":0.9513},{"s":"a","e":16920,"c":0.9523},{"s":"a","e":17260,"c":0.9513},{"s":"a","e":17330,"c":0.9497},{"s":"a","e":17600,"c":0.9487},{"s":"a","e":18240,"c":0.9487},{"s":"a","e":18400,"c":0.9504},{"s":"a","e":18790,"c":0.9495},{"s":"a","e":19160,"c":0.9491},{"s":"a","e":19890,"c":0.9497},{"s":"a","e":20570,"c":0.9504},{"s":"a","e":20750,"c":0.9507},{"s":"a","e":20520,"c":0.9491},{"s":"a","e":21140,"c":0.9494},{"s":"a","e":21370,"c":0.9481},{"s":"a","e":21600,"c":0.9477},{"s":"a","e":17600,"c":0.9474},{"s":"a","e":17190,"c":0.9479},{"s":"a","e":18290,"c":0.9484},{"s":"a","e":18740,"c":0.9479},{"s":"a","e":18970,"c":0.9474},{"s":"a","e":19090,"c":0.9471},{"s":"a","e":19310,"c":0.9473},{"s":"a","e":19540,"c":0.9468},{"s":"a","e":19660,"c":0.9458},{"s":"a","e":19890,"c":0.9461},{"s":"a","e":20000,"c":0.9476},{"s":"a","e":20270,"c":0.9469},{"s":"a","e":20800,"c":0.9461},{"s":"a","e":20910,"c":0.9473},{"s":"a","e":21480,"c":0.9455},{"s":"a","e":21710,"c":0.9461},{"s":"a","e":21600,"c":0.9471},{"s":"a","e":19770,"c":0.9451},{"s":"a","e":20230,"c":0.9438},{"s":"a","e":20680,"c":0.9432},{"s":"a","e":20110,"c":0.9445},{"s":"a","e":22170,"c":0.9438},{"s":"a","e":22280,"c":0.944},{"s":"a","e":22740,"c":0.9432},{"s":"a","e":22850,"c":0.9438},{"s":"a","e":23040,"c":0.9448},{"s":"a","e":23200,"c":0.9461},{"s":"a","e":23080,"c":0.9484},{"s":"a","e":22850,"c":0.9484},{"s":"a","e":22740,"c":0.9477},{"s":"a","e":23200,"c":0.9477},{"s":"a","e":23650,"c":0.9491},{"s":"a","e":23990,"c":0.9477},{"s":"a","e":24220,"c":0.9468},{"s":"a","e":24570,"c":0.9481},{"s":"a","e":23490,"c":0.9468},{"s":"a","e":23770,"c":0.9455},{"s":"a","e":24110,"c":0.9458},{"s":"a","e":24450,"c":0.9458},{"s":"a","e":23540,"c":0.9429},{"s":"a","e":23770,"c":0.9429},{"s":"a","e":24110,"c":0.9432},{"s":"a","e":23880,"c":0.9422},{"s":"a","e":24220,"c":0.9416},{"s":"a","e":24340,"c":0.9412},{"s":"a","e":24680,"c":0.9429},{"s":"a","e":24730,"c":0.9438},{"s":"a","e":22280,"c":0.9412},{"s":"a","e":22510,"c":0.941},{"s":"a","e":21710,"c":0.9419},{"s":"a","e":23540,"c":0.9406},{"s":"a","e":23880,"c":0.9402},{"s":"a","e":23990,"c":0.9396},{"s":"a","e":23540,"c":0.9389},{"s":"a","e":24180,"c":0.9389},{"s":"a","e":24340,"c":0.9383},{"s":"a","e":24680,"c":0.9367},
{"s":"a","e":24790,"c":0.9686},{"s":"a","e":25780,"c":0.9678},{"s":"a","e":26350,"c":0.9678},{"s":"a","e":26460,"c":0.9698},{"s":"a","e":28490,"c":0.9702},{"s":"a","e":28860,"c":0.9702},{"s":"a","e":27990,"c":0.9683},{"s":"a","e":28330,"c":0.9683},{"s":"a","e":28970,"c":0.9682},{"s":"a","e":29700,"c":0.9702},{"s":"a","e":30500,"c":0.972},{"s":"a","e":30840,"c":0.9709},{"s":"a","e":30910,"c":0.97},{"s":"a","e":31350,"c":0.9701},{"s":"a","e":32830,"c":0.9717},{"s":"a","e":33470,"c":0.9699},{"s":"a","e":34610,"c":0.9717},{"s":"a","e":34840,"c":0.9719},{"s":"a","e":35000,"c":0.9719},{"s":"a","e":35520,"c":0.9717},{"s":"a","e":35980,"c":0.9696},{"s":"a","e":36210,"c":0.9688},{"s":"a","e":36620,"c":0.9711},{"s":"a","e":37300,"c":0.9717},{"s":"a","e":36780,"c":0.9676},{"s":"a","e":37350,"c":0.968},{"s":"a","e":35820,"c":0.9662},{"s":"a","e":26920,"c":0.9659},{"s":"a","e":27530,"c":0.9665},{"s":"a","e":27720,"c":0.9665},{"s":"a","e":28220,"c":0.9658},{"s":"a","e":30000,"c":0.9682},{"s":"a","e":30090,"c":0.9684},{"s":"a","e":31870,"c":0.9685},{"s":"a","e":32050,"c":0.9688},{"s":"a","e":33060,"c":0.9676},{"s":"a","e":29700,"c":0.9652},{"s":"a","e":30840,"c":0.9645},{"s":"a","e":31070,"c":0.966},{"s":"a","e":31600,"c":0.9657},{"s":"a","e":31980,"c":0.9662},{"s":"a","e":32400,"c":0.9655},{"s":"a","e":32560,"c":0.9647},{"s":"a","e":32830,"c":0.9646},{"s":"a","e":33490,"c":0.9652},{"s":"a","e":33810,"c":0.9673},{"s":"a","e":25320,"c":0.9639},{"s":"a","e":26210,"c":0.9634},{"s":"a","e":26280,"c":0.9624},{"s":"a","e":28030,"c":0.964},{"s":"a","e":28220,"c":0.9629},{"s":"a","e":28400,"c":0.9629},{"s":"a","e":28720,"c":0.9644},{"s":"a","e":30960,"c":0.9633},{"s":"a","e":31530,"c":0.9623},{"s":"a","e":32050,"c":0.9621},{"s":"a","e":32440,"c":0.9621},{"s":"a","e":33010,"c":0.9626},{"s":"a","e":33810,"c":0.9631},{"s":"a","e":34500,"c":0.9614},{"s":"a","e":34660,"c":0.9608},{"s":"a","e":34840,"c":0.9629},{"s":"a","e":35520,"c":0.9631},{"s":"a","e":35820,"c":0.9631},{"s":"a","e":36500,"c":0.9639},{"s":"a","e":36820,"c":0.9633},{"s":"a","e":37240,"c":0.9623},{"s":"a","e":36710,"c":0.9618},{"s":"a","e":36570,"c":0.9608},{"s":"a","e":25660,"c":0.9618},{"s":"a","e":25930,"c":0.9601},{"s":"a","e":26570,"c":0.9601},{"s":"a","e":27030,"c":0.9611},{"s":"a","e":27240,"c":0.9611},{"s":"a","e":27420,"c":0.9611},{"s":"a","e":26960,"c":0.9593},{"s":"a","e":26160,"c":0.9597},{"s":"a","e":26390,"c":0.9596},{"s":"a","e":25140,"c":0.9585},{"s":"a","e":25660,"c":0.9575},{"s":"a","e":25820,"c":0.9573},{"s":"a","e":25090,"c":0.9575},{"s":"a","e":25360,"c":0.9556},{"s":"a","e":24860,"c":0.9559},{"s":"a","e":25140,"c":0.9546},{"s":"a","e":24980,"c":0.9536},{"s":"a","e":25250,"c":0.9533},{"s":"a","e":25590,"c":0.9526},{"s":"a","e":25930,"c":0.9533},{"s":"a","e":25320,"c":0.952},{"s":"a","e":24910,"c":0.952},{"s":"a","e":25820,"c":0.9517},{"s":"a","e":26460,"c":0.9536},{"s":"a","e":26800,"c":0.9546},{"s":"a","e":27300,"c":0.9546},{"s":"a","e":27530,"c":0.9565},{"s":"a","e":27490,"c":0.9584},{"s":"a","e":27580,"c":0.959},{"s":"a","e":28220,"c":0.959},{"s":"a","e":28330,"c":0.9572},{"s":"a","e":28060,"c":0.9573},{"s":"a","e":28450,"c":0.9564},{"s":"a","e":29060,"c":0.956},{"s":"a","e":28970,"c":0.9545},{"s":"a","e":28510,"c":0.9539},{"s":"a","e":27990,"c":0.9521},{"s":"a","e":27760,"c":0.9529},{"s":"a","e":28220,"c":0.9531},{"s":"a","e":28450,"c":0.9528},{"s":"a","e":29590,"c":0.9579},{"s":"a","e":29660,"c":0.959},{"s":"a","e":30040,"c":0.9601},{"s":"a","e":30320,"c":0.96},{"s":"a","e":30110,"c":0.9585},{"s":"a","e":30610,"c":0.9595},{"s":"a","e":30800,"c":0.9608},{"s":"a","e":31300,"c":0.959},{"s":"a","e":31230,"c":0.9579},{"s":"a","e":31870,"c":0.9577},{"s":"a","e":32170,"c":0.9598},{"s":"a","e":32670,"c":0.9592},{"s":"a","e":33290,"c":0.96},{"s":"a","e":33420,"c":0.9588},{"s":"a","e":33170,"c":0.9583},{"s":"a","e":33810,"c":0.9584},{"s":"a","e":34220,"c":0.9579},{"s":"a","e":29820,"c":0.9569},{"s":"a","e":30160,"c":0.9558},{"s":"a","e":30500,"c":0.9551},{"s":"a","e":30610,"c":0.9546},{"s":"a","e":30320,"c":0.9539},{"s":"a","e":30840,"c":0.9549},{"s":"a","e":31000,"c":0.9556},{"s":"a","e":30780,"c":0.9562},{"s":"a","e":31480,"c":0.9551},{"s":"a","e":31640,"c":0.9559},{"s":"a","e":31070,"c":0.9536},{"s":"a","e":31350,"c":0.9523},{"s":"a","e":31640,"c":0.9533},{"s":"a","e":31980,"c":0.9541},{"s":"a","e":32600,"c":0.9549},{"s":"a","e":33350,"c":0.956},{"s":"a","e":33580,"c":0.9539},{"s":"a","e":33810,"c":0.9543},{"s":"a","e":34040,"c":0.9547},{"s":"a","e":34270,"c":0.9547},{"s":"a","e":34770,"c":0.9547},{"s":"a","e":35140,"c":0.9548},{"s":"a","e":36160,"c":0.9572},{"s":"a","e":36090,"c":0.9562},{"s":"a","e":35980,"c":0.9549},{"s":"a","e":35980,"c":0.9539},{"s":"a","e":36320,"c":0.9526},{"s":"a","e":36550,"c":0.9522},{"s":"a","e":36780,"c":0.952},{"s":"a","e":36660,"c":0.9579},{"s":"a","e":36660,"c":0.9585},{"s":"a","e":37300,"c":0.9593},{"s":"a","e":36890,"c":0.9543},{"s":"a","e":37240,"c":0.9523},{"s":"a","e":37350,"c":0.952},{"s":"a","e":36210,"c":0.9539},{"s":"a","e":36660,"c":0.9539},{"s":"a","e":35860,"c":0.9569},{"s":"a","e":35980,"c":0.9559},{"s":"a","e":36320,"c":0.9552},{"s":"a","e":36480,"c":0.9559},{"s":"a","e":36210,"c":0.952},{"s":"a","e":36440,"c":0.951},{"s":"a","e":30800,"c":0.9515},{"s":"a","e":32210,"c":0.952},{"s":"a","e":32140,"c":0.951},{"s":"a","e":32050,"c":0.9506},{"s":"a","e":33080,"c":0.9507},{"s":"a","e":33170,"c":0.9492},{"s":"a","e":32830,"c":0.9486},{"s":"a","e":33700,"c":0.9512},{"s":"a","e":34380,"c":0.952},{"s":"a","e":35140,"c":0.952},{"s":"a","e":35520,"c":0.9504},{"s":"a","e":36390,"c":0.9502},{"s":"a","e":36820,"c":0.9502},{"s":"a","e":37240,"c":0.9504},{"s":"a","e":24790,"c":0.9507},{"s":"a","e":25200,"c":0.9492},{"s":"a","e":26350,"c":0.9507},{"s":"a","e":27080,"c":0.951},{"s":"a","e":27260,"c":0.9494},{"s":"a","e":27460,"c":0.9495},{"s":"a","e":27830,"c":0.9497},{"s":"a","e":27080,"c":0.9484},{"s":"a","e":27760,"c":0.9484},{"s":"a","e":28450,"c":0.9486},{"s":"a","e":29020,"c":0.9504},{"s":"a","e":29090,"c":0.9484},{"s":"a","e":29860,"c":0.9496},{"s":"a","e":30160,"c":0.9495},{"s":"a","e":30000,"c":0.9477},{"s":"a","e":29860,"c":0.9461},{"s":"a","e":29930,"c":0.9442},{"s":"a","e":30680,"c":0.9468},{"s":"a","e":31070,"c":0.9468},{"s":"a","e":32050,"c":0.9469},{"s":"a","e":32210,"c":0.9468},{"s":"a","e":33010,"c":0.9497},{"s":"a","e":32900,"c":0.9476},{"s":"a","e":34110,"c":0.9481},{"s":"a","e":34150,"c":0.9476},{"s":"a","e":33930,"c":0.9497},{"s":"a","e":34200,"c":0.9496},{"s":"a","e":34380,"c":0.9468},{"s":"a","e":35180,"c":0.9491},{"s":"a","e":35230,"c":0.9471},{"s":"a","e":36320,"c":0.9468},{"s":"a","e":36620,"c":0.9466},{"s":"a","e":37080,"c":0.9477},{"s":"a","e":24910,"c":0.9471},{"s":"a","e":26160,"c":0.9472},{"s":"a","e":26730,"c":0.9481},{"s":"a","e":26920,"c":0.9469},{"s":"a","e":27190,"c":0.9471},{"s":"a","e":25590,"c":0.9458},{"s":"a","e":24910,"c":0.9445},{"s":"a","e":26390,"c":0.9449},{"s":"a","e":26800,"c":0.9449},{"s":"a","e":26350,"c":0.9429},{"s":"a","e":26390,"c":0.9438},{"s":"a","e":25710,"c":0.9419},{"s":"a","e":25820,"c":0.9412},{"s":"a","e":25020,"c":0.9416},{"s":"a","e":27140,"c":0.9412},{"s":"a","e":27490,"c":0.9432},{"s":"a","e":27760,"c":0.9419},{"s":"a","e":27990,"c":0.9432},{"s":"a","e":27830,"c":0.9411},{"s":"a","e":28220,"c":0.9412},{"s":"a","e":28060,"c":0.9458},{"s":"a","e":28380,"c":0.9455},{"s":"a","e":28630,"c":0.9447},{"s":"a","e":28970,"c":0.9443},{"s":"a","e":28790,"c":0.9432},{"s":"a","e":28790,"c":0.9416},{"s":"a","e":29660,"c":0.9423},{"s":"a","e":29310,"c":0.9412},{"s":"a","e":30040,"c":0.9402},{"s":"a","e":30840,"c":0.9448},{"s":"a","e":31250,"c":0.9448},{"s":"a","e":31410,"c":0.9438},{"s":"a","e":31530,"c":0.9432},{"s":"a","e":30890,"c":0.9422},{"s":"a","e":31190,"c":0.9412},{"s":"a","e":31690,"c":0.9409},{"s":"a","e":32170,"c":0.9445},{"s":"a","e":32780,"c":0.9449},{"s":"a","e":33350,"c":0.9442},{"s":"a","e":33930,"c":0.942},{"s":"a","e":34610,"c":0.9422},{"s":"a","e":34680,"c":0.9434},{"s":"a","e":34840,"c":0.9425},{"s":"a","e":35180,"c":0.9411},{"s":"a","e":35340,"c":0.9409},{"s":"a","e":35930,"c":0.9435},{"s":"a","e":36320,"c":0.9435},{"s":"a","e":36820,"c":0.9448},{"s":"a","e":37350,"c":0.9448},{"s":"a","e":37010,"c":0.9412},{"s":"a","e":37240,"c":0.9409},{"s":"a","e":37350,"c":0.9389},{"s":"a","e":25140,"c":0.9389},{"s":"a","e":26510,"c":0.9396},{"s":"a","e":27490,"c":0.9397},{"s":"a","e":28220,"c":0.938},{"s":"a","e":28170,"c":0.937},{"s":"a","e":28400,"c":0.9373},{"s":"a","e":28510,"c":0.9373},{"s":"a","e":29130,"c":0.9383},{"s":"a","e":29240,"c":0.9367},{"s":"a","e":29930,"c":0.938},{"s":"a","e":29880,"c":0.937},{"s":"a","e":31000,"c":0.9378},{"s":"a","e":31480,"c":0.9393},{"s":"a","e":31870,"c":0.9378},{"s":"a","e":32100,"c":0.938},{"s":"a","e":32620,"c":0.9376},{"s":"a","e":33240,"c":0.9367},{"s":"a","e":34380,"c":0.938},{"s":"a","e":34610,"c":0.9373},{"s":"a","e":35140,"c":0.9376},{"s":"a","e":37240,"c":0.9371},
{"s":"a","e":25710,"c":0.9344},{"s":"a","e":26090,"c":0.9331},{"s":"a","e":26570,"c":0.9342},{"s":"a","e":27350,"c":0.9314},{"s":"a","e":27490,"c":0.9301},{"s":"a","e":28060,"c":0.9329},{"s":"a","e":28170,"c":0.9334},{"s":"a","e":28490,"c":0.9345},{"s":"a","e":28560,"c":0.9353},{"s":"a","e":29820,"c":0.9344},{"s":"a","e":29950,"c":0.936},{"s":"a","e":30680,"c":0.932},{"s":"a","e":30840,"c":0.9348},{"s":"a","e":31830,"c":0.9351},{"s":"a","e":31830,"c":0.9297},{"s":"a","e":32400,"c":0.9291},{"s":"a","e":32560,"c":0.9308},{"s":"a","e":32740,"c":0.9321},{"s":"a","e":32780,"c":0.9322},{"s":"a","e":32830,"c":0.9311},{"s":"a","e":32970,"c":0.9324},{"s":"a","e":33130,"c":0.9342},{"s":"a","e":33510,"c":0.9339},{"s":"a","e":33810,"c":0.9308},{"s":"a","e":34090,"c":0.9306},{"s":"a","e":34220,"c":0.9329},{"s":"a","e":34340,"c":0.932},{"s":"a","e":33240,"c":0.9362},{"s":"a","e":35430,"c":0.9326},{"s":"a","e":35640,"c":0.932},{"s":"a","e":35860,"c":0.932},{"s":"a","e":35520,"c":0.9303},{"s":"a","e":35520,"c":0.9286},{"s":"a","e":35890,"c":0.9297},{"s":"a","e":36090,"c":0.9357},{"s":"a","e":36670,"c":0.9355},{"s":"a","e":35930,"c":0.9334},{"s":"a","e":36280,"c":0.9334},{"s":"a","e":36480,"c":0.9327},{"s":"a","e":36710,"c":0.9336},{"s":"a","e":36620,"c":0.9286},{"s":"a","e":37120,"c":0.9282},{"s":"a","e":28260,"c":0.928},{"s":"a","e":28380,"c":0.9269},{"s":"a","e":28170,"c":0.926},{"s":"a","e":29040,"c":0.9267},{"s":"a","e":29090,"c":0.9254},{"s":"a","e":29750,"c":0.9263},{"s":"a","e":29520,"c":0.9244},{"s":"a","e":29980,"c":0.9237},{"s":"a","e":30320,"c":0.9249},{"s":"a","e":30500,"c":0.9235},{"s":"a","e":31460,"c":0.9243},{"s":"a","e":31640,"c":0.9247},{"s":"a","e":33650,"c":0.9264},{"s":"a","e":33830,"c":0.926},{"s":"a","e":35000,"c":0.9264},{"s":"a","e":36960,"c":0.9255},{"s":"a","e":37280,"c":0.926},{"s":"a","e":36890,"c":0.9243},{"s":"a","e":37010,"c":0.9244},{"s":"a","e":29540,"c":0.9214},{"s":"a","e":31070,"c":0.9217},{"s":"a","e":31550,"c":0.9226},{"s":"a","e":31870,"c":0.9223},{"s":"a","e":32260,"c":0.9216},{"s":"a","e":32670,"c":0.9226},{"s":"a","e":33130,"c":0.9228},{"s":"a","e":32920,"c":0.921},{"s":"a","e":33970,"c":0.9209},{"s":"a","e":34660,"c":0.9203},{"s":"a","e":35890,"c":0.9224},{"s":"a","e":36250,"c":0.9213},{"s":"a","e":36440,"c":0.9206},{"s":"a","e":36530,"c":0.9196},{"s":"a","e":33600,"c":0.9196},{"s":"a","e":33930,"c":0.9188},{"s":"a","e":31850,"c":0.9198},{"s":"a","e":31870,"c":0.9188},{"s":"a","e":32490,"c":0.9189},{"s":"a","e":32870,"c":0.9181},{"s":"a","e":34220,"c":0.9164},{"s":"a","e":30910,"c":0.9174},{"s":"a","e":31000,"c":0.9164},{"s":"a","e":36350,"c":0.9179},{"s":"a","e":36210,"c":0.9168},{"s":"a","e":35730,"c":0.9156},{"s":"a","e":37030,"c":0.9173},{"s":"a","e":33240,"c":0.914},{"s":"a","e":36320,"c":0.9134},{"s":"a","e":34040,"c":0.9032},{"s":"a","e":34400,"c":0.9022},{"s":"a","e":34290,"c":0.9009},
{"s":"a","e":38330,"c":0.9715},{"s":"a","e":38650,"c":0.9715},{"s":"a","e":37920,"c":0.9704},{"s":"a","e":40020,"c":0.9713},{"s":"a","e":41800,"c":0.9712},{"s":"a","e":46600,"c":0.9698},{"s":"a","e":49900,"c":0.9717},{"s":"a","e":37810,"c":0.9673},{"s":"a","e":37460,"c":0.968},{"s":"a","e":37580,"c":0.9662},{"s":"a","e":39340,"c":0.9662},{"s":"a","e":41690,"c":0.9662},{"s":"a","e":41800,"c":0.9662},{"s":"a","e":42300,"c":0.966},{"s":"a","e":42880,"c":0.9674},{"s":"a","e":43220,"c":0.966},{"s":"a","e":47050,"c":0.967},{"s":"a","e":47970,"c":0.9676},{"s":"a","e":49400,"c":0.9667},{"s":"a","e":46370,"c":0.9656},{"s":"a","e":38900,"c":0.965},{"s":"a","e":40320,"c":0.9649},{"s":"a","e":40500,"c":0.9649},{"s":"a","e":38610,"c":0.9636},{"s":"a","e":38670,"c":0.9634},{"s":"a","e":38950,"c":0.9626},{"s":"a","e":40930,"c":0.9636},{"s":"a","e":42600,"c":0.9642},{"s":"a","e":42940,"c":0.9629},{"s":"a","e":43400,"c":0.9637},{"s":"a","e":43900,"c":0.9634},{"s":"a","e":44150,"c":0.9632},{"s":"a","e":44270,"c":0.9644},{"s":"a","e":44540,"c":0.9652},{"s":"a","e":45500,"c":0.9626},{"s":"a","e":45610,"c":0.964},{"s":"a","e":46780,"c":0.9644},{"s":"a","e":46940,"c":0.9642},{"s":"a","e":47580,"c":0.9642},{"s":"a","e":47780,"c":0.964},{"s":"a","e":47920,"c":0.9637},{"s":"a","e":48990,"c":0.9616},{"s":"a","e":48220,"c":0.9606},{"s":"a","e":47850,"c":0.9599},{"s":"a","e":46210,"c":0.9603},{"s":"a","e":45300,"c":0.9603},{"s":"a","e":45450,"c":0.9605},{"s":"a","e":44270,"c":0.9601},{"s":"a","e":43790,"c":0.9612},{"s":"a","e":42720,"c":0.96},{"s":"a","e":42760,"c":0.959},{"s":"a","e":42030,"c":0.9614},{"s":"a","e":42140,"c":0.9612},{"s":"a","e":41920,"c":0.9596},{"s":"a","e":41620,"c":0.9624},{"s":"a","e":39820,"c":0.9614},{"s":"a","e":39910,"c":0.9611},{"s":"a","e":40480,"c":0.9618},{"s":"a","e":40500,"c":0.9606},{"s":"a","e":40590,"c":0.9596},{"s":"a","e":40660,"c":0.9592},{"s":"a","e":41000,"c":0.9585},{"s":"a","e":40160,"c":0.9581},{"s":"a","e":39470,"c":0.959},{"s":"a","e":38490,"c":0.9601},{"s":"a","e":38420,"c":0.9598},{"s":"a","e":37620,"c":0.9584},{"s":"a","e":41350,"c":0.9597},{"s":"a","e":42720,"c":0.9594},{"s":"a","e":42030,"c":0.9575},{"s":"a","e":41920,"c":0.9573},{"s":"a","e":43920,"c":0.9575},{"s":"a","e":47210,"c":0.9579},{"s":"a","e":46710,"c":0.956},{"s":"a","e":46940,"c":0.9556},{"s":"a","e":46410,"c":0.955},{"s":"a","e":47400,"c":0.9552},{"s":"a","e":48420,"c":0.9546},{"s":"a","e":49110,"c":0.9554},{"s":"a","e":45730,"c":0.9548},{"s":"a","e":45340,"c":0.9541},{"s":"a","e":45610,"c":0.9536},{"s":"a","e":45520,"c":0.9528},{"s":"a","e":46160,"c":0.9533},{"s":"a","e":47030,"c":0.9527},{"s":"a","e":41730,"c":0.9554},{"s":"a","e":42300,"c":0.9551},{"s":"a","e":39820,"c":0.9539},{"s":"a","e":38830,"c":0.9572},{"s":"a","e":38490,"c":0.9564},{"s":"a","e":39340,"c":0.956},{"s":"a","e":39220,"c":0.9562},{"s":"a","e":38560,"c":0.9552},{"s":"a","e":41760,"c":0.9528},{"s":"a","e":42830,"c":0.9522},{"s":"a","e":38610,"c":0.9528},{"s":"a","e":37690,"c":0.9532},{"s":"a","e":38260,"c":0.952},{"s":"a","e":38100,"c":0.9515},{"s":"a","e":37810,"c":0.9509},{"s":"a","e":37580,"c":0.9512},{"s":"a","e":37530,"c":0.9521},{"s":"a","e":38490,"c":0.9504},{"s":"a","e":38830,"c":0.95},{"s":"a","e":39290,"c":0.9494},{"s":"a","e":37810,"c":0.9493},{"s":"a","e":38260,"c":0.9494},{"s":"a","e":37460,"c":0.9495},{"s":"a","e":41800,"c":0.9494},{"s":"a","e":42030,"c":0.95},{"s":"a","e":42140,"c":0.9489},{"s":"a","e":42260,"c":0.9496},{"s":"a","e":41980,"c":0.9492},{"s":"a","e":42670,"c":0.9488},{"s":"a","e":42420,"c":0.9478},{"s":"a","e":41530,"c":0.9485},{"s":"a","e":41120,"c":0.9468},{"s":"a","e":40160,"c":0.9486},{"s":"a","e":39980,"c":0.947},{"s":"a","e":38990,"c":0.9474},{"s":"a","e":38100,"c":0.9476},{"s":"a","e":37580,"c":0.9474},{"s":"a","e":43290,"c":0.9502},{"s":"a","e":43810,"c":0.9507},{"s":"a","e":44660,"c":0.9493},{"s":"a","e":42030,"c":0.9466},{"s":"a","e":42140,"c":0.9455},{"s":"a","e":42830,"c":0.9458},{"s":"a","e":43130,"c":0.9455},{"s":"a","e":40840,"c":0.9451},{"s":"a","e":39750,"c":0.9452},{"s":"a","e":39470,"c":0.9446},{"s":"a","e":38830,"c":0.9452},{"s":"a","e":38150,"c":0.9451},{"s":"a","e":38260,"c":0.9443},{"s":"a","e":38220,"c":0.9435},{"s":"a","e":37690,"c":0.9458},{"s":"a","e":37580,"c":0.9448},{"s":"a","e":44150,"c":0.9447},{"s":"a","e":45410,"c":0.944},{"s":"a","e":46050,"c":0.9434},{"s":"a","e":46870,"c":0.944},{"s":"a","e":47050,"c":0.9453},{"s":"a","e":47170,"c":0.9458},{"s":"a","e":47280,"c":0.9466},{"s":"a","e":46940,"c":0.9448},{"s":"a","e":39860,"c":0.9432},{"s":"a","e":40320,"c":0.9433},{"s":"a","e":40200,"c":0.942},{"s":"a","e":40140,"c":0.9412},{"s":"a","e":39910,"c":0.9404},{"s":"a","e":40020,"c":0.9409},{"s":"a","e":37530,"c":0.9427},{"s":"a","e":37620,"c":0.9415},{"s":"a","e":43920,"c":0.9411},{"s":"a","e":42210,"c":0.9394},{"s":"a","e":43060,"c":0.9388},{"s":"a","e":44840,"c":0.9389},{"s":"a","e":41000,"c":0.9376},{"s":"a","e":41640,"c":0.9369},{"s":"a","e":42940,"c":0.9372},{"s":"a","e":38100,"c":0.9373},{"s":"a","e":38610,"c":0.9392},{"s":"a","e":38900,"c":0.9372},{"s":"a","e":45910,"c":0.9367},{"s":"a","e":47240,"c":0.9371},
{"s":"a","e":37920,"c":0.9355},{"s":"a","e":39400,"c":0.9357},{"s":"a","e":40730,"c":0.9325},{"s":"a","e":39110,"c":0.9312},{"s":"a","e":40140,"c":0.931},{"s":"a","e":40500,"c":0.9305},{"s":"a","e":40770,"c":0.9304},{"s":"a","e":41480,"c":0.931},{"s":"a","e":42190,"c":0.9306},{"s":"a","e":42050,"c":0.9333},{"s":"a","e":42460,"c":0.9341},{"s":"a","e":44400,"c":0.9343},{"s":"a","e":45500,"c":0.9353},{"s":"a","e":37690,"c":0.9293},{"s":"a","e":39290,"c":0.9275},{"s":"a","e":39180,"c":0.9258},{"s":"a","e":39820,"c":0.9268},{"s":"a","e":40430,"c":0.928},{"s":"a","e":40460,"c":0.9269},{"s":"a","e":40590,"c":0.9247},{"s":"a","e":41760,"c":0.9264},{"s":"a","e":42170,"c":0.9265},{"s":"a","e":43220,"c":0.9268},{"s":"a","e":43700,"c":0.9271},{"s":"a","e":43950,"c":0.9292},{"s":"a","e":44020,"c":0.9298},{"s":"a","e":44610,"c":0.9282},{"s":"a","e":45800,"c":0.9301},{"s":"a","e":46600,"c":0.9272},{"s":"a","e":38770,"c":0.9218},{"s":"a","e":40550,"c":0.9217},{"s":"a","e":40820,"c":0.9224},{"s":"a","e":37530,"c":0.9206},{"s":"a","e":37620,"c":0.9184},{"s":"a","e":37620,"c":0.9171},{"s":"a","e":39040,"c":0.9171},{"s":"a","e":39450,"c":0.9166},{"s":"a","e":40320,"c":0.916},{"s":"a","e":40090,"c":0.915},{"s":"a","e":39980,"c":0.9142},{"s":"a","e":41230,"c":0.9174},{"s":"a","e":41480,"c":0.9183},{"s":"a","e":42210,"c":0.9184},{"s":"a","e":42420,"c":0.9173},{"s":"a","e":43350,"c":0.9166},{"s":"a","e":43720,"c":0.917},{"s":"a","e":44060,"c":0.916},{"s":"a","e":44930,"c":0.9177},{"s":"a","e":46850,"c":0.9198},{"s":"a","e":47780,"c":0.9213},{"s":"a","e":39860,"c":0.9115},{"s":"a","e":41030,"c":0.9131},{"s":"a","e":41730,"c":0.9125},{"s":"a","e":43330,"c":0.9121},{"s":"a","e":44400,"c":0.9141},{"s":"a","e":45340,"c":0.914},{"s":"a","e":47240,"c":0.9129},{"s":"a","e":40430,"c":0.9091},{"s":"a","e":40770,"c":0.9091},{"s":"a","e":43720,"c":0.9078},{"s":"a","e":44950,"c":0.9099},{"s":"a","e":45430,"c":0.909},{"s":"a","e":45610,"c":0.9106},{"s":"a","e":46000,"c":0.9074},{"s":"a","e":46600,"c":0.9098},{"s":"a","e":46980,"c":0.9102},{"s":"a","e":48950,"c":0.9074},{"s":"a","e":40020,"c":0.905},{"s":"a","e":41960,"c":0.9055},{"s":"a","e":43470,"c":0.9041},{"s":"a","e":45550,"c":0.9031},{"s":"a","e":47330,"c":0.9059},{"s":"a","e":47460,"c":0.905},{"s":"a","e":48490,"c":0.9052},{"s":"a","e":40960,"c":0.9021},{"s":"a","e":47010,"c":0.9024},{"s":"a","e":49060,"c":0.9017}
]},
"mark":{"type":"point","opacity":1,"strokeWidth":1,"size":24},
"encoding":{
"x":{"field":"e","type":"quantitative","scale":{"domain":[0,50000],"nice":false,"zero":false},"axis":{"orient":"bottom","values":[0,10000,20000,30000,40000,50000],"format":"d","tickSize":-8,"labelPadding":16,"title":"Energy in cm⁻¹","titlePadding":6}},
"y":{"field":"c","type":"quantitative","scale":{"domain":[0.9,1.0],"nice":false,"zero":false},"axis":{"orient":"left","values":[0.9,0.92,0.94,0.96,0.98,1.0],"format":".2f","tickSize":-8,"labelPadding":14,"title":"expansion coefficient","titlePadding":10}},
"color":{"field":"s","type":"nominal","scale":{"domain":["a","b"],"range":["#0000ff","#ff0000"]},"legend":{"labelExpr":"datum.label == 'a' ? 'CASSCF dominant reference' : 'CASSCF wave function'"}},
"shape":{"field":"s","type":"nominal","scale":{"domain":["a","b"],"range":["circle","square"]},"legend":{"labelExpr":"datum.label == 'a' ? 'CASSCF dominant reference' : 'CASSCF wave function'"}},
"fill":{"field":"s","type":"nominal","scale":{"domain":["a","b"],"range":["#0000ff","transparent"]},"legend":{"labelExpr":"datum.label == 'a' ? 'CASSCF dominant reference' : 'CASSCF wave function'"}}
}},
{"data":{"values":[{"e":0,"c":0.9}]},"mark":{"type":"point","opacity":0},
"encoding":{
"x":{"field":"e","type":"quantitative","scale":{"domain":[0,50000],"nice":false,"zero":false},"axis":{"orient":"bottom","values":[5000,15000,25000,35000,45000],"tickSize":-4,"labels":false,"domain":false,"title":null}},
"y":{"field":"c","type":"quantitative","scale":{"domain":[0.9,1.0],"nice":false,"zero":false},"axis":{"orient":"left","values":[0.91,0.93,0.95,0.97,0.99],"tickSize":-4,"labels":false,"domain":false,"title":null}}}},
{"data":{"values":[{"e":0,"c":0.9}]},"mark":{"type":"point","opacity":0},
"encoding":{
"x":{"field":"e","type":"quantitative","scale":{"domain":[0,50000],"nice":false,"zero":false},"axis":{"orient":"top","values":[10000,20000,30000,40000],"tickSize":-8,"labels":false,"domain":false,"title":null}},
"y":{"field":"c","type":"quantitative","scale":{"domain":[0.9,1.0],"nice":false,"zero":false},"axis":{"orient":"right","values":[0.92,0.94,0.96,0.98],"tickSize":-8,"labels":false,"domain":false,"title":null}}}},
{"data":{"values":[{"e":0,"c":0.9}]},"mark":{"type":"point","opacity":0},
"encoding":{
"x":{"field":"e","type":"quantitative","scale":{"domain":[0,50000],"nice":false,"zero":false},"axis":{"orient":"top","values":[5000,15000,25000,35000,45000],"tickSize":-4,"labels":false,"domain":false,"title":null}},
"y":{"field":"c","type":"quantitative","scale":{"domain":[0.9,1.0],"nice":false,"zero":false},"axis":{"orient":"right","values":[0.91,0.93,0.95,0.97,0.99],"tickSize":-4,"labels":false,"domain":false,"title":null}}}}
]
}
